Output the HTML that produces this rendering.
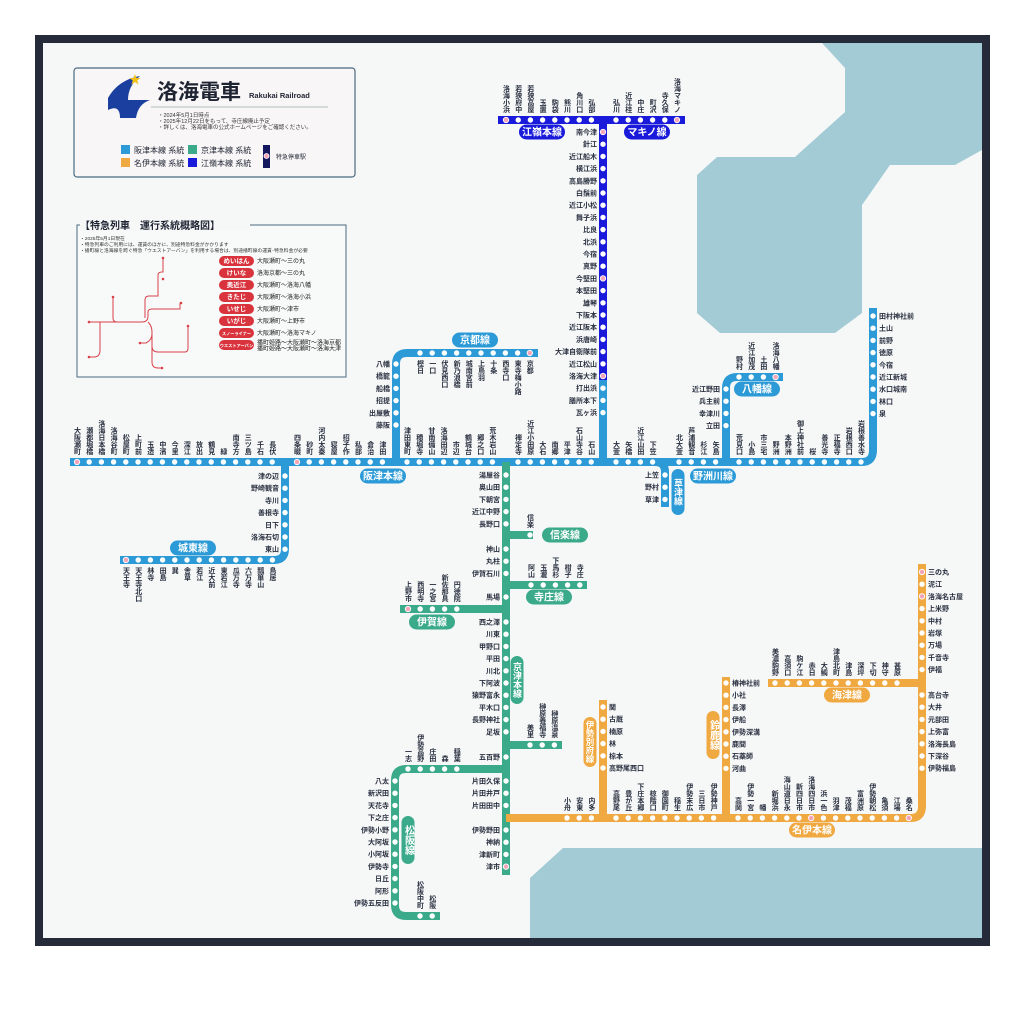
<!DOCTYPE html>
<html><head><meta charset="utf-8">
<style>
html,body{margin:0;padding:0;background:#fff;}
svg{display:block;font-family:"Liberation Sans","Noto Sans CJK JP",sans-serif;}
.v{writing-mode:vertical-rl;}
</style></head>
<body>
<svg id="m" width="1024" height="1015" viewBox="0 0 1024 1015" xmlns="http://www.w3.org/2000/svg">
<rect x="0" y="0" width="1024" height="1015" fill="#fff"/>
<rect x="35" y="35" width="955" height="911" fill="#262b3a"/>
<rect x="43" y="43" width="939" height="895" fill="#f6f8f8"/>
<polygon fill="#a3cbd5" points="697,175 717,157 795,157 845,112 845,68 822,43 982,43 982,150 955,165 890,165 862,205 862,313 835,333 720,333 697,313"/>
<polygon fill="#a3cbd5" points="530,878 563,848 982,848 982,938 530,938"/>

<!-- legend box -->
<rect x="74" y="68" width="281" height="109" rx="3" fill="#f8f6f6" stroke="#4a6a80" stroke-width="1.2"/>
<path d="M108,98 Q118,80 140,76 Q128,86 128,100 L150,100 Q138,104 136,118 L120,118 Q120,104 108,110 Z" fill="#1b3f9e"/>
<polygon fill="#f3c21a" points="135,74 136.5,78 140.5,78 137.3,80.5 138.5,84.5 135,82 131.5,84.5 132.7,80.5 129.5,78 133.5,78"/>
<text x="157" y="99" font-size="21" font-weight="bold" fill="#1f2433">洛海電車</text>
<text x="249" y="98" font-size="7.5" font-weight="bold" fill="#1f2433">Rakukai Railroad</text>
<line x1="151" y1="107" x2="328" y2="107" stroke="#9aa" stroke-width="0.8"/>
<text x="158" y="117" font-size="5.5" fill="#333">・2024年5月1日時点</text>
<text x="158" y="123" font-size="5.5" fill="#333">・2025年12月22日をもって、寺庄線廃止予定</text>
<text x="158" y="129" font-size="5.5" fill="#333">・詳しくは、洛海電車の公式ホームページをご確認ください。</text>
<rect x="121" y="145" width="9" height="9" fill="#2b9ad6"/>
<text x="134" y="153" font-size="8" fill="#1f2433">阪津本線 系統</text>
<rect x="188" y="145" width="9" height="9" fill="#3aaa8a"/>
<text x="201" y="153" font-size="8" fill="#1f2433">京津本線 系統</text>
<rect x="121" y="158" width="9" height="9" fill="#f0a840"/>
<text x="134" y="166" font-size="8" fill="#1f2433">名伊本線 系統</text>
<rect x="188" y="158" width="9" height="9" fill="#1a1adb"/>
<text x="201" y="166" font-size="8" fill="#1f2433">江嶺本線 系統</text>
<rect x="263" y="145" width="7" height="23" fill="#14165e"/>
<circle cx="266.5" cy="156" r="2.5" fill="#f4a6b8" stroke="#fff" stroke-width="0.8"/>
<text x="276" y="159" font-size="6" fill="#1f2433">特急停車駅</text>

<!-- express box -->
<rect x="77" y="225" width="269" height="152" fill="#f8f9f9" stroke="#4a6a80" stroke-width="1"/>
<rect x="80" y="219" width="170" height="12" fill="#f6f8f8"/>
<text x="80" y="229" font-size="10" font-weight="bold" fill="#1f2433">【特急列車　運行系統概略図】</text>
<text x="80" y="240" font-size="4.8" fill="#333">・2025年5月1日現在</text>
<text x="80" y="246" font-size="4.8" fill="#333">・特急列車のご利用には、運賃のほかに、別途特急料金がかかります</text>
<text x="80" y="252" font-size="4.8" fill="#333">・播町線と洛海線を跨ぐ特急「ウエストアーバン」を利用する場合は、別途播町線の運賃･特急料金が必要</text>
<g fill="none" stroke="#d9414a" stroke-width="1">
<path d="M89,322 H142 Q148,322 148,316 V312 Q148,309 152,309 H163"/>
<path d="M113,297 V318 Q113,322 117,322"/>
<path d="M145,318 V300 Q145,296 149,296 H158 V280"/>
<path d="M158,280 V275 Q158,272 162,272 H163 V258"/>
<path d="M152,309 H180 V303"/>
<path d="M148,322 Q152,326 152,332 V346 Q152,352 158,352 H185 Q188,352 188,348 V326 H187"/>
<path d="M152,334 Q152,340 146,343 H140"/>
<path d="M152,346 V362 Q152,368 158,368 H162"/>
<path d="M100,322 V350 Q100,357 94,357 H89"/>
</g>
<g fill="#d9414a"><circle cx="89" cy="322" r="1.3"/><circle cx="113" cy="297" r="1.3"/><circle cx="163" cy="258" r="1.3"/><circle cx="163" cy="279" r="1.3"/><circle cx="181" cy="303" r="1.3"/><circle cx="188" cy="326" r="1.3"/><circle cx="140" cy="343" r="1.3"/><circle cx="162" cy="368" r="1.3"/><circle cx="89" cy="357" r="1.3"/></g>
<g id="exp"></g>
<g id="lines" fill="none" stroke-width="8" stroke-linejoin="round" stroke-linecap="butt"></g>
<g id="sts"></g>
<g id="pills"></g>
</svg>
<script>
var NS="http://www.w3.org/2000/svg";
function el(p,t,a,txt){var e=document.createElementNS(NS,t);for(var k in a)e.setAttribute(k,a[k]);if(txt!==undefined)e.textContent=txt;document.getElementById(p).appendChild(e);return e;}
var B="#2b9ad6",G="#3aaa8a",O="#f0a840",D="#1a1adb";
function L(d,c){el("lines","path",{d:d,stroke:c});}
L("M70,462 H862 Q873,462 873,450 V308",B);
L("M285,462 V549 Q285,560 274,560 H120",B);
L("M396,462 V364 Q396,353 407,353 H538",B);
L("M603,462 V376",B);
L("M603,380 V120",D);
L("M498,120 H685",D);
L("M726,462 V388 Q726,377 737,377 H783",B);
L("M655,462 Q665,462 665,472 V507",B);
L("M506,462 V875",G);
L("M506,535 H533",G);
L("M506,585 H587",G);
L("M506,609 H400",G);
L("M506,745 H562",G);
L("M506,769 H406 Q395,769 395,780 V905 Q395,916 406,916 H440",G);
L("M506,818 H911 Q922,818 922,806 V564",O);
L("M922,683 H768",O);
L("M603,818 V700",O);
L("M726,818 V677",O);
function st(x,y,n,pos,pink){
  el("sts","circle",{cx:x,cy:y,r:2.7,fill:pink?"#f4a6b8":"#fff",stroke:pink?"#fff":"none","stroke-width":0.9});
  var a={"font-size":7,fill:"#2a3040","font-weight":"bold"};
  if(pos=="L"){a.x=x-6;a.y=y+2.5;a["text-anchor"]="end";}
  else if(pos=="R"){a.x=x+6;a.y=y+2.5;}
  else if(pos=="U"){a.x=x;a.y=y-7;a["text-anchor"]="end";a["class"]="v";}
  else {a.x=x;a.y=y+7;a["class"]="v";}
  el("sts","text",a,n);
}
function H(x0,y,names,pos,pinks,dx){dx=dx||12.2;names.forEach(function(n,i){st(x0+i*dx,y,n,pos,pinks&&pinks.indexOf(i)>=0);});}
function V(x,y0,names,pos,pinks,dy){dy=dy||12.2;names.forEach(function(n,i){st(x,y0+i*dy,n,pos,pinks&&pinks.indexOf(i)>=0);});}
H(77,462,["大阪瀬町","瀬都堀橋","洛海日本橋","洛海谷町","松屋町","上町前","玉造","中濱","今里","深江","放出","鶴見","緑","南寺方","三ツ島","千石","長伏"],"U",[0]);
H(297,462,["四条畷","砂町","河内太秦","寝屋","招子作","私部","倉治","津田"],"U",[0]);
H(407,462,["津田東町","穂堀寺","甘南備山","洛海田辺","市辺","鶴城台","郷之口","荒木岩山"],"U");
H(518,462,["禅定寺","近江小田原","大石","南郷","平津","石山寺谷","石山"],"U");
H(616,462,["大萱","矢橋","近江山田","下笠"],"U");
H(679,462,["北大萱","芦浦観音","杉江","矢島"],"U");
H(739,462,["荒見口","小島","市三宅","野洲","本野洲","御上神社前","桜","善光寺","正福寺","岩根西口","岩根善水寺"],"U");
V(873,316,["田村神社前","土山","前野","徳原","今宿","近江新城","水口城南","林口","泉"],"R");
V(285,476,["津の辺","野崎観音","寺川","善根寺","日下","洛海石切","東山"],"L");
H(126,560,["天王寺","天王寺北口","林寺","田島","巽","舎草","若江","近大前","東若江","瓜万寺","六万寺","瓢箪山","鳥居"],"D",[0]);
V(396,364,["八幡","橋籠","船橋","招提","出屋敷","藤阪"],"L");
H(420,353,["樫日","一口","伏見西口","新乃浪橋","城南宮前","上鳥羽","十条","西寺口","東寺梅小路","京都"],"D",[9]);
V(603,132,["南今津","針江","近江船木","横江浜","高島勝野","白鬚前","近江小松","舞子浜","比良","北浜","今宿","真野","今堅田","本堅田","雄琴","下阪本","近江阪本","浜唐崎","大津自衛隊前","近江松山","洛海大津","打出浜","膳所本下","瓦ヶ浜"],"L",[0,12,20]);
H(506,120,["洛海小浜","若狭府中","若狭高屋","玉置","駒袋","熊川","角川口","弘部"],"U",[0]);
H(616,120,["弘川","近江桂","中庄","町沢","寺久保","洛海マキノ"],"U",[5]);
V(726,389,["近江野田","兵主前","幸津川","立田"],"L");
H(739,377,["野村","近江加茂","土田","洛海八幡"],"U",[3]);
V(665,475,["上笠","野村","草津"],"L");
V(506,475,["湯屋谷","奥山田","下朝宮","近江中野","長野口"],"L");
st(530,535,"信楽","U");
V(506,549,["神山","丸柱","伊賀石川"],"L");
H(531,585,["阿山","玉瀧","下馬杉","柑子","寺庄"],"U");
st(506,597,"馬場","L");
H(408,609,["上野市","西明寺","一之宮","新佐那具","円徳院"],"U",[0]);
V(506,622,["西之澤","川東","甲野口","平田","川北","下阿波","猿野富永","平木口","長野神社","足坂"],"L");
H(530,745,["美里","榊原養福寺","榊原温泉"],"U");
st(506,757,"五百野","L");
H(408,769,["一志","伊勢高野","庄田","森","稲葉"],"U");
V(506,781,["片田久保","片田井戸","片田田中"],"L");
V(506,830,["伊勢野田","神納","津新町","津市"],"L",[3]);
V(395,781,["八太","新沢田","天花寺","下之庄","伊勢小野","大阿坂","小阿坂","伊勢寺","日丘","阿形","伊勢五反田"],"L");
H(420,916,["松阪中町","松阪"],"U");
H(567,818,["小舟","安東","内多"],"U");
H(616,818,["高野尾","豊が丘","下庄本郷","椋階口","御園町","稲生","伊勢末広","三日市","伊勢神戸"],"U");
H(738,818,["高岡","伊勢一宮","幡","新堀浜","海山道日永","新四日市","洛海四日市","浜一色","羽津","茂福","富洲原","伊勢朝松","亀須","江場","桑名"],"U",[6,14]);
V(922,572,["三の丸","泥江","洛海名古屋","上米野","中村","岩塚","万場","千音寺","伊福"],"R",[0,2]);
V(922,695,["高台寺","大井","元部田","上弥富","洛海長島","下深谷","伊勢福島"],"R");
H(775,683,["美濃駒野","高須口","駒ケ江","赤日","大鯛","津島北町","津島","深坪","下切","神守","甚原"],"U");
V(603,707,["関","古厩","楠原","林","椋本","高野尾西口"],"R");
V(726,683,["椿神社前","小社","長澤","伊船","伊勢深溝","鹿間","石薬師","河曲"],"R");
function P(cx,cy,w,h,c,t,vert,fs){
  fs=fs||10;
  el("pills","rect",{x:cx-w/2,y:cy-h/2,width:w,height:h,rx:Math.min(w,h)/2,fill:c});
  var a={x:cx,y:cy+fs*0.35,"font-size":fs,"font-weight":"bold",fill:"#fff","text-anchor":"middle"};
  if(vert){a.y=cy;a["class"]="v";a.x=cx;}
  el("pills","text",a,t);
}
P(193,548,46,15,B,"城東線");P(383,476,46,15,B,"阪津本線");P(475,340,46,15,B,"京都線");
P(542,132,46,15,D,"江嶺本線");P(647,132,46,15,D,"マキノ線");P(757,389,46,15,B,"八幡線");
P(713,476,46,15,B,"野洲川線");P(678,492,13,46,B,"草津線",1,9);
P(565,535,46,15,G,"信楽線");P(549,597,46,15,G,"寺庄線");P(432,622,46,15,G,"伊賀線");
P(517,680,13,48,G,"京津本線",1,9);P(408,840,13,48,G,"松阪線",1,10);
P(590,742,13,50,O,"伊勢別府線",1,8.5);P(713,735,13,48,O,"鈴鹿線",1,10);
P(847,695,46,15,O,"海津線");P(812,830,46,15,O,"名伊本線");
var ex=[["めいはん","大阪瀬町〜三の丸"],["けいな","洛海京都〜三の丸"],["奥近江","大阪瀬町〜洛海八幡"],["きたじ","大阪瀬町〜洛海小浜"],["いせじ","大阪瀬町〜津市"],["いがじ","大阪瀬町〜上野市"],["スノーライナー","大阪瀬町〜洛海マキノ"],["ウエストアーバン","播町姫路〜大阪瀬町〜洛海京都"]];
ex.forEach(function(e,i){var y=261+i*12;
 el("exp","rect",{x:219,y:y-5,width:35,height:10,rx:5,fill:"#d9343e"});
 el("exp","text",{x:236.5,y:y+2,"font-size":e[0].length>4?4.2:6.5,"font-weight":"bold",fill:"#fff","text-anchor":"middle"},e[0]);
 el("exp","text",{x:257,y:i==7?y-0.5:y+2.2,"font-size":6,fill:"#222"},e[1]);
});
el("exp","text",{x:257,y:350.5,"font-size":6,fill:"#222"},"播町姫路〜大阪瀬町〜洛海大津");
</script>
</body></html>
